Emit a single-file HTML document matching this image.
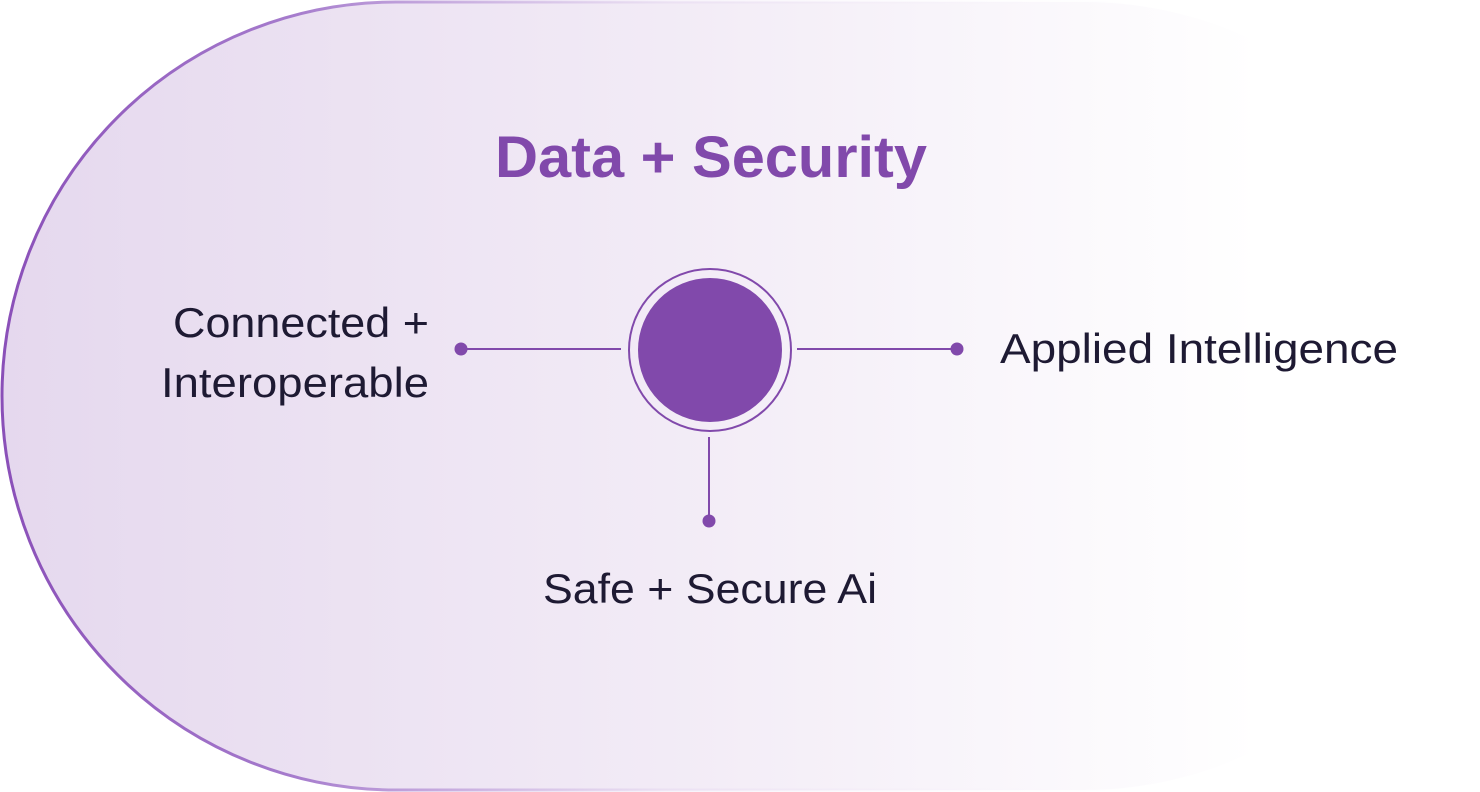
<!DOCTYPE html>
<html><head><meta charset="utf-8"><style>
html,body{margin:0;padding:0;background:#fff;width:1480px;height:792px;overflow:hidden}
svg{display:block}
</style></head><body>
<svg width="1480" height="792" viewBox="0 0 1480 792" xmlns="http://www.w3.org/2000/svg">
<defs>
<linearGradient id="f" x1="0" y1="0" x2="1480" y2="0" gradientUnits="userSpaceOnUse">
<stop offset="0" stop-color="#e5d8ee"/>
<stop offset="0.45" stop-color="#f2ebf6"/>
<stop offset="0.85" stop-color="#ffffff"/>
</linearGradient>
<linearGradient id="s" x1="0" y1="0" x2="1480" y2="0" gradientUnits="userSpaceOnUse">
<stop offset="0" stop-color="#8a4fb8"/>
<stop offset="0.2" stop-color="#a67ccd"/>
<stop offset="0.45" stop-color="#e8dcf1" stop-opacity="0.7"/>
<stop offset="0.8" stop-color="#ffffff" stop-opacity="0"/>
</linearGradient>
</defs>
<path d="M396 2 H1084 A394 394 0 0 1 1084 790 H396 A394 394 0 0 1 396 2 Z" fill="url(#f)" stroke="url(#s)" stroke-width="3"/>
<text x="495" y="177" textLength="432" lengthAdjust="spacingAndGlyphs" font-family="Liberation Sans, sans-serif" font-weight="bold" font-size="58" fill="#8149ab">Data + Security</text>
<circle cx="710" cy="350" r="81" fill="none" stroke="#8149ab" stroke-width="2"/>
<circle cx="710" cy="350" r="72" fill="#8149ab"/>
<line x1="461" y1="349" x2="621" y2="349" stroke="#8149ab" stroke-width="2"/>
<circle cx="461" cy="349" r="6.5" fill="#8149ab"/>
<line x1="797" y1="349" x2="957" y2="349" stroke="#8149ab" stroke-width="2"/>
<circle cx="957" cy="349" r="6.5" fill="#8149ab"/>
<line x1="709" y1="437" x2="709" y2="521" stroke="#8149ab" stroke-width="2"/>
<circle cx="709" cy="521" r="6.5" fill="#8149ab"/>
<g font-family="Liberation Sans, sans-serif" font-size="42" fill="#1e1a33" lengthAdjust="spacingAndGlyphs">
<text x="173" y="337" textLength="256" lengthAdjust="spacingAndGlyphs">Connected +</text>
<text x="161" y="397" textLength="268" lengthAdjust="spacingAndGlyphs">Interoperable</text>
<text x="1000" y="363" textLength="398" lengthAdjust="spacingAndGlyphs">Applied Intelligence</text>
<text x="543" y="603" textLength="334" lengthAdjust="spacingAndGlyphs">Safe + Secure Ai</text>
</g>
</svg>
</body></html>
